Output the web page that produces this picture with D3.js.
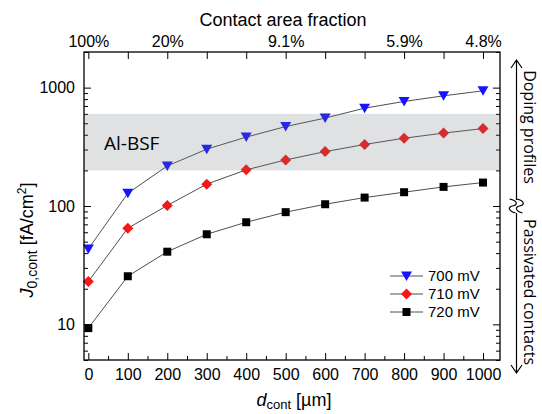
<!DOCTYPE html>
<html>
<head>
<meta charset="utf-8">
<script src="https://cdn.jsdelivr.net/npm/d3@7"></script>
<style>
  body { margin: 0; background: #fff; }
  text { font-family: "Liberation Sans", Arial, sans-serif; }
</style>
</head>
<body>
<svg id="chart" width="542" height="414"></svg>
<script>
// data
var dCont = [0, 100, 200, 300, 400, 500, 600, 700, 800, 900, 1000];
var j700 = [43.4, 128, 218, 302, 382, 469, 553, 671, 764, 853, 940];
var j710 = [23.0, 64.9, 101, 153, 202, 245, 288, 331, 374, 413, 451];
var j720 = [9.3, 25.5, 41.1, 57.7, 72.9, 88.7, 103.5, 117.8, 130.8, 145, 157.8];
var seriesNames = ["700 mV", "710 mV", "720 mV"];

// top axis: contact area fraction
var fracAt = [0, 200, 500, 800, 1000];
var fracLabels = ["100%", "20%", "9.1%", "5.9%", "4.8%"];

// Al-BSF range
var bandRange = [200, 600];

var dims = { width: 542, height: 414, left: 84, right: 500, top: 52, bottom: 360 };

var svg = d3.select("#chart");

var x = d3.scaleLinear().domain([-11, 1043]).range([dims.left, dims.right]);
var y = d3.scaleLog().domain([5, 2000]).range([dims.bottom, dims.top]);

// log ticks
var majorY = [10, 100, 1000];
var minorY = [];
[1, 10, 100, 1000].forEach(function(dec) {
  for (var k = 2; k <= 9; k++) {
    var v = dec * k;
    if (v >= 5 && v <= 2000) minorY.push(v);
  }
});
var majorX = d3.range(0, 1001, 100);
var minorX = d3.range(50, 1000, 100);

function noDomain(g) { g.select(".domain").remove(); }

// left axis
svg.append("g")
  .attr("transform", `translate(${dims.left},0)`)
  .call(d3.axisLeft(y).tickValues(majorY).tickSize(-7).tickPadding(9).tickFormat(d3.format("d")))
  .call(noDomain)
  .call(g => g.selectAll("text").style("font-size", "16px").attr("fill", "#000"));
svg.append("g")
  .attr("transform", `translate(${dims.left},0)`)
  .call(d3.axisLeft(y).tickValues(minorY).tickSize(-4).tickFormat(""))
  .call(noDomain);

// right axis
svg.append("g")
  .attr("transform", `translate(${dims.right},0)`)
  .call(d3.axisRight(y).tickValues(majorY).tickSize(-7).tickFormat(""))
  .call(noDomain);
svg.append("g")
  .attr("transform", `translate(${dims.right},0)`)
  .call(d3.axisRight(y).tickValues(minorY).tickSize(-4).tickFormat(""))
  .call(noDomain);

// bottom axis
svg.append("g")
  .attr("transform", `translate(0,${dims.bottom})`)
  .call(d3.axisBottom(x).tickValues(majorX).tickSize(-7).tickPadding(9).tickFormat(d3.format("d")))
  .call(noDomain)
  .call(g => g.selectAll("text").style("font-size", "16px").attr("fill", "#000"));
svg.append("g")
  .attr("transform", `translate(0,${dims.bottom})`)
  .call(d3.axisBottom(x).tickValues(minorX).tickSize(-4).tickFormat(""))
  .call(noDomain);

// top axis
svg.append("g")
  .attr("transform", `translate(0,${dims.top})`)
  .call(d3.axisTop(x).tickValues(majorX).tickSize(-7).tickPadding(5)
    .tickFormat(d => fracAt.indexOf(d) >= 0 ? fracLabels[fracAt.indexOf(d)] : ""))
  .call(noDomain)
  .call(g => g.selectAll("text").style("font-size", "16px").attr("fill", "#000"));

// series
var series = [
  { name: seriesNames[0], values: j700, color: "#1414ff", shape: "tri" },
  { name: seriesNames[1], values: j710, color: "#f41818", shape: "dia" },
  { name: seriesNames[2], values: j720, color: "#000000", shape: "sq" }
];

function markerPath(shape) {
  if (shape == "tri") return "M-5.5,-4.5L5.5,-4.5L0,5Z";
  if (shape == "dia") return "M0,-5.5L5.5,0L0,5.5L-5.5,0Z";
  return "M-4,-4L4,-4L4,4L-4,4Z";
}

var line = d3.line().x(d => x(d[0])).y(d => y(d[1]));

series.forEach(function(s) {
  var pts = dCont.map((d, i) => [d, s.values[i]]);
  svg.append("path")
    .attr("d", line(pts))
    .attr("fill", "none")
    .attr("stroke", "#3a3a3a")
    .attr("stroke-width", 0.9);
  svg.selectAll(null)
    .data(pts)
    .enter()
    .append("path")
    .attr("d", markerPath(s.shape))
    .attr("transform", d => `translate(${x(d[0])},${y(d[1])})`)
    .attr("fill", s.color);
});

// Al-BSF band drawn over the data, semi transparent
svg.append("rect")
  .attr("x", dims.left)
  .attr("width", dims.right - dims.left)
  .attr("y", y(bandRange[1]))
  .attr("height", y(bandRange[0]) - y(bandRange[1]))
  .attr("fill", "#6c787e")
  .attr("opacity", 0.22);

svg.append("text")
  .attr("x", 104)
  .attr("y", 150)
  .style("font-family", "'Open Sans', sans-serif")
  .style("font-size", "19px")
  .text("Al-BSF");

// frame
svg.append("rect")
  .attr("x", dims.left)
  .attr("y", dims.top)
  .attr("width", dims.right - dims.left)
  .attr("height", dims.bottom - dims.top)
  .attr("fill", "none")
  .attr("stroke", "#000")
  .attr("stroke-width", 1.3);

// legend
var legend = svg.selectAll(".legend")
  .data(series)
  .enter()
  .append("g")
  .attr("class", "legend")
  .attr("transform", (d, i) => `translate(390, ${276 + i * 18})`);
legend.append("line")
  .attr("x1", 0).attr("x2", 33)
  .attr("stroke", "#3a3a3a").attr("stroke-width", 0.9);
legend.append("path")
  .attr("d", d => markerPath(d.shape))
  .attr("transform", "translate(16.5,0)")
  .attr("fill", d => d.color);
legend.append("text")
  .attr("x", 38)
  .attr("dy", "0.35em")
  .style("font-size", "15px")
  .text(d => d.name);

// axis titles
svg.append("text")
  .attr("x", 283)
  .attr("y", 26)
  .attr("text-anchor", "middle")
  .style("font-size", "18px")
  .text("Contact area fraction");

var xt = svg.append("text")
  .attr("x", 294)
  .attr("y", 406)
  .attr("text-anchor", "middle")
  .style("font-size", "18px");
xt.append("tspan").style("font-style", "italic").text("d");
xt.append("tspan").attr("dy", 3).style("font-size", "13px").text("cont");
xt.append("tspan").attr("dy", -3).text(" [µm]");

var yt = svg.append("text")
  .attr("transform", "translate(33,240) rotate(-90)")
  .attr("text-anchor", "middle")
  .style("font-size", "18px");
yt.append("tspan").style("font-style", "italic").text("J");
yt.append("tspan").attr("dy", 4).style("font-size", "14px").text("0,cont");
yt.append("tspan").attr("dy", -4).text(" [fA/cm");
yt.append("tspan").attr("dy", -7).style("font-size", "12px").text("2");
yt.append("tspan").attr("dy", 7).text("]");

// right side annotation arrows
var ann = svg.append("g").attr("stroke", "#000").attr("stroke-width", 1.2).attr("fill", "none");
ann.append("path").attr("d", "M516.5,200L516.5,60M511,68L516.5,60L522,68");
ann.append("path").attr("d", "M516.5,213L516.5,373M511,365L516.5,373L522,365");
ann.append("path").attr("d", "M509.5,199C518.5,201 517.5,205 512.5,206C507.5,207 508.5,211 515.5,213");
ann.append("path").attr("d", "M516.5,199C525.5,201 524.5,205 519.5,206C514.5,207 515.5,211 522.5,213");

svg.append("text")
  .attr("transform", "translate(523.5,127) rotate(90)")
  .attr("text-anchor", "middle")
  .style("font-family", "'Open Sans', sans-serif")
  .style("font-size", "16px")
  .text("Doping profiles");
svg.append("text")
  .attr("transform", "translate(523.5,292) rotate(90)")
  .attr("text-anchor", "middle")
  .style("font-family", "'Open Sans', sans-serif")
  .style("font-size", "16px")
  .text("Passivated contacts");
</script>
</body>
</html>
